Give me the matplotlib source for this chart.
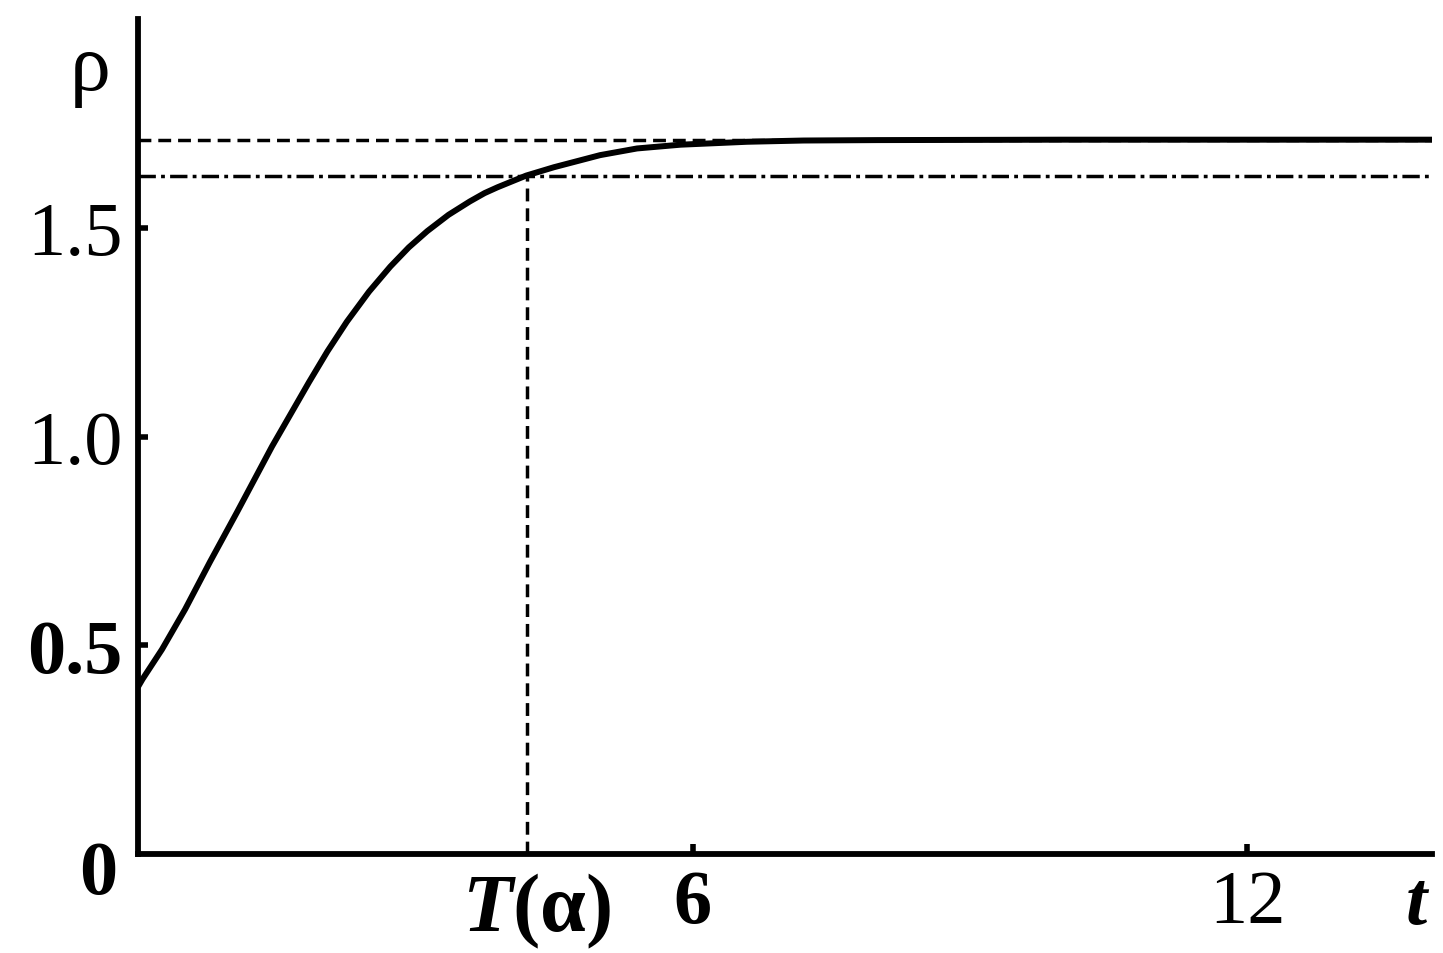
import matplotlib
matplotlib.use("Agg")
import matplotlib.pyplot as plt

# values
t_values = [0.0, 0.05, 0.26, 0.51, 0.78, 1.07, 1.45, 1.85, 2.05, 2.26, 2.5,
            2.73, 2.93, 3.13, 3.36, 3.59, 3.75, 3.89, 4.2, 4.5, 5.0, 5.4,
            5.87, 6.59, 7.2, 8.0, 10.0, 14.0]
rho_values = [0.40, 0.419, 0.49, 0.586, 0.70, 0.818, 0.976, 1.13, 1.204, 1.275,
              1.347, 1.407, 1.453, 1.492, 1.531, 1.563, 1.583, 1.597, 1.625,
              1.645, 1.674, 1.69, 1.699, 1.706, 1.709, 1.710, 1.711, 1.711]
rho_limit = 1.711
rho_alpha = 1.625
t_alpha = 4.21
x_ticks = [6, 12]
x_tick_labels = ["6", "12"]
y_ticks = [0.5, 1.0, 1.5]
y_tick_labels = ["0.5", "1.0", "1.5"]

plt.rcParams["font.family"] = ["Liberation Serif", "DejaVu Serif"]
plt.rcParams["mathtext.fontset"] = "custom"
plt.rcParams["mathtext.rm"] = "Liberation Serif"
plt.rcParams["mathtext.it"] = "Liberation Serif:italic"
plt.rcParams["mathtext.bf"] = "Liberation Serif:bold"
plt.rcParams["mathtext.bfit"] = "Liberation Serif:italic:bold"

FONT_SIZE = 55

fig = plt.figure(figsize=(14.43, 9.54), dpi=100)
ax = fig.add_axes([0.0956, 0.1038, 0.8968, 0.8752])

ax.plot(t_values, rho_values, color="black", linewidth=4.3,
        solid_capstyle="butt", solid_joinstyle="round")
ax.axhline(rho_limit, color="black", linewidth=2.5, dashes=(3.7, 2.0))
ax.axhline(rho_alpha, color="black", linewidth=2.5, dashes=(5.0, 1.5, 1.1, 1.5))
ax.plot([t_alpha, t_alpha], [0, rho_alpha], color="black", linewidth=2.5,
        dashes=(3.7, 2.0))

ax.set_xlim(0, 14.0)
ax.set_ylim(0, 2.0)

for side in ("top", "right"):
    ax.spines[side].set_visible(False)
for side in ("left", "bottom"):
    ax.spines[side].set_linewidth(4.2)

ax.set_xticks(x_ticks)
ax.set_xticklabels(x_tick_labels)
ax.set_yticks(y_ticks)
ax.set_yticklabels(y_tick_labels)
ax.tick_params(direction="in", length=7.5, width=4, labelsize=FONT_SIZE)
ax.tick_params(axis="x", pad=11)
ax.tick_params(axis="y", pad=11)

xlabels = ax.get_xticklabels()
xlabels[0].set_fontweight("bold")
ylabels = ax.get_yticklabels()
ylabels[0].set_fontweight("bold")

ax.text(-0.43, -0.05, "0", fontsize=FONT_SIZE, fontweight="bold",
        ha="center", va="center", clip_on=False)
ax.text(t_alpha + 0.1, -0.04, r"$\mathbfit{T}$(α)", fontsize=FONT_SIZE + 4,
        fontweight="bold", ha="center", va="top", clip_on=False)
ax.text(13.84, -0.12, r"$\mathbfit{t}$", fontsize=FONT_SIZE,
        ha="center", va="center", clip_on=False)
ax.text(-0.52, 1.88, "ρ", fontsize=FONT_SIZE + 4, ha="center", va="center",
        clip_on=False)

fig.savefig("out.png", dpi=100)
